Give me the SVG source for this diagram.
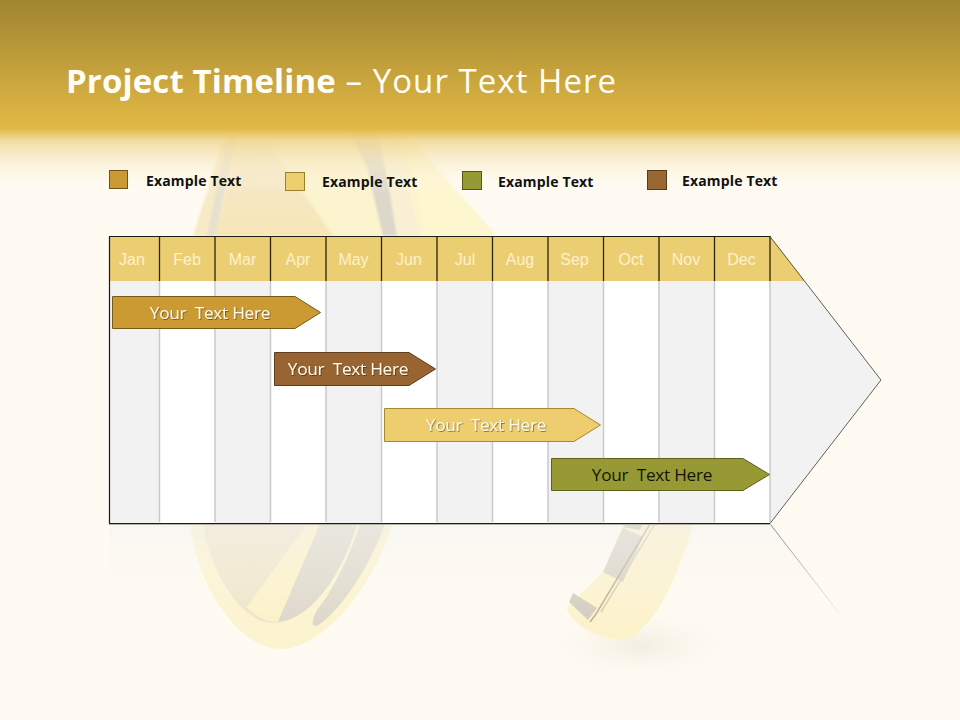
<svg xmlns="http://www.w3.org/2000/svg" width="960" height="720" viewBox="0 0 960 720">
<style>
.leg{font:bold 14px "Open Sans","Noto Sans",sans-serif;fill:#111;letter-spacing:.15px}
.mon{font:16px "Liberation Sans",Arial,sans-serif;fill:#fdf1cd;text-anchor:middle}
.bar{font:17.2px "Open Sans","Noto Sans",sans-serif;text-anchor:middle;fill:#fff8e4;white-space:pre;letter-spacing:-.25px}
.sw{stroke-width:1}
.alt{fill:#f2f2f2}
.gl{stroke:#c9c9c9;stroke-width:1.5;fill:none}
.hl{stroke:#2a2410;stroke-width:1.3;fill:none}
</style>
<defs>
<linearGradient id="hdr" x1="0" y1="0" x2="0" y2="1">
<stop offset="0" stop-color="#a08530"/>
<stop offset=".66" stop-color="#e2b945"/>
<stop offset=".72" stop-color="#efd68f" stop-opacity=".85"/>
<stop offset=".85" stop-color="#f8ebc8" stop-opacity=".5"/>
<stop offset="1" stop-color="#fffbf3" stop-opacity="0"/>
</linearGradient>
<linearGradient id="fadeL" x1="0" y1="0" x2="0" y2="1">
<stop offset="0" stop-color="#8a8a8a"/>
<stop offset="1" stop-color="#8a8a8a" stop-opacity="0"/>
</linearGradient>
<linearGradient id="fadeD" x1="0" y1="0" x2="1" y2="1">
<stop offset="0" stop-color="#8a8a86"/>
<stop offset="1" stop-color="#8a8a86" stop-opacity="0"/>
</linearGradient>
<linearGradient id="refl" x1="0" y1="0" x2="0" y2="1">
<stop offset="0" stop-color="#f3f3f1"/>
<stop offset="1" stop-color="#fffbf3" stop-opacity="0"/>
</linearGradient>
<linearGradient id="peach" x1="0" y1="0" x2="0" y2="1">
<stop offset="0" stop-color="#f3e9cf"/>
<stop offset="1" stop-color="#f6e6b8"/>
</linearGradient>
<radialGradient id="sh"><stop offset="0" stop-color="#ece7da" stop-opacity=".7"/><stop offset="1" stop-color="#fffbf3" stop-opacity="0"/></radialGradient>
<filter id="ts" x="-5%" y="-20%" width="110%" height="140%"><feDropShadow dx="0.8" dy="0.8" stdDeviation="0.6" flood-color="#000" flood-opacity=".5"/></filter>
<filter id="soft"><feGaussianBlur stdDeviation="1.2"/></filter>
</defs>
<rect id="background" width="960" height="720" fill="#fffbf3"/>
<g id="ring-art">
<g filter="url(#soft)">
<path d="M227 128L193 236H497L400 128Z" fill="#fcf3cf"/>
<path d="M227 128L193 236H215L246 128Z" fill="#f6ebc6"/>
<path d="M229 128L207 236H215L238 128Z" fill="#e6e0cf"/>
<path d="M246 128H258L333 236H215Z" fill="url(#peach)"/>
<path d="M347 128H377L383 153L397 236H383L367 167Z" fill="#dcd7ca"/>
<path d="M377 128H392L420 236H399Z" fill="#f8efd5"/>
<path d="M400 128L497 236H425L405 128Z" fill="#fef6cf"/>
</g>
<path d="M190 524C198 590 240 650 282 649C325 647 375 585 392 524Z" fill="#fcf3d0"/>
<path d="M203 524C210 570 240 623 273 623C312 623 345 565 357 524Z" fill="#efe5ca"/>
<path d="M247 607L307 524H320L278 622C265 622 255 616 247 607Z" fill="#fcf2c8"/>
<path d="M278 622L320 524H357C343 570 315 618 278 622Z" fill="#ddd8ca"/>
<path d="M313 625C311 618 318 608 326 598C340 575 352 550 360 524H385C370 565 345 605 320 624C317 626 314 626 313 625Z" fill="#ddd8ca"/>
<ellipse cx="640" cy="645" rx="110" ry="40" fill="url(#sh)"/>
<path d="M623 524H693C682 565 660 615 643 627C635 638 628 640 622 640C605 638 590 634 587 630C575 622 567 615 567 607L603 572Z" fill="#fcf2cc"/>
<path d="M623 528L643 537L623 582L603 572Z" fill="#d8d3c6"/>
<path d="M626 524H643L640 530L623 527Z" fill="#c9c3b2"/>
<path d="M573 593L597 608L588 620L569 602Z" fill="#d2cdbf"/>
<path d="M650 524L596 614L590 622" fill="none" stroke="#b9b09a" stroke-width="1.500"/>
<path d="M655 524L601 612" fill="none" stroke="#d8ceb0" stroke-width="1.500"/>
</g>
<rect id="header-band" width="960" height="195" fill="url(#hdr)"/>
<text id="title" x="66" y="93" font-family="'Open Sans','Noto Sans',sans-serif" font-size="33" fill="#fffdf5" xml:space="preserve"><tspan font-weight="bold" letter-spacing=".12">Project Timeline</tspan><tspan letter-spacing="1.05"> – Your Text Here</tspan></text>
<g id="legend">
<g id="legend-1"><rect class="sw" x="109.500" y="170.500" width="18" height="18" fill="#cc9a33" stroke="#6f5317"/><text class="leg" x="146" y="186">Example Text</text></g>
<g id="legend-2"><rect class="sw" x="285.500" y="172.500" width="19" height="18" fill="#edcf70" stroke="#9a7f2c"/><text class="leg" x="322" y="187">Example Text</text></g>
<g id="legend-3"><rect class="sw" x="462.500" y="171.500" width="19" height="18" fill="#979a34" stroke="#55561a"/><text class="leg" x="498" y="187">Example Text</text></g>
<g id="legend-4"><rect class="sw" x="647.500" y="170.500" width="19" height="19" fill="#9a6733" stroke="#573a1b"/><text class="leg" x="682" y="186">Example Text</text></g>
</g>
<g id="timeline">
<path d="M109 236H770L881 380L770 523H109Z" fill="#fff"/>
<g id="columns">
<rect class="alt" x="109" y="281" width="50.500" height="242"/>
<rect class="alt" x="215" y="281" width="55.500" height="242"/>
<rect class="alt" x="326" y="281" width="55.500" height="242"/>
<rect class="alt" x="437" y="281" width="55.500" height="242"/>
<rect class="alt" x="548" y="281" width="55.500" height="242"/>
<rect class="alt" x="659" y="281" width="55.500" height="242"/>
<path class="alt" d="M770 281H805L881 380L770 523Z"/>
<path fill="#ecce72" d="M109 236H770L805 281H109Z"/>
</g>
<g id="connectors">
<path class="gl" d="M159.500 281V522M215 281V522M270.500 281V522M326 281V522M381.500 281V522M437 281V522M492.500 281V522M548 281V522M603.500 281V522M659 281V522M714.500 281V522M770 281V522"/>
<path class="hl" d="M159.500 236V281M215 236V281M270.500 236V281M326 236V281M381.500 236V281M437 236V281M492.500 236V281M548 236V281M603.500 236V281M659 236V281M714.500 236V281M770 236V281"/>
<path d="M770 523.500H109.500V236.500H770" fill="none" stroke="#1c1c14" stroke-width="1.200"/>
<path d="M770 236.500L881 380L770 523.500" fill="none" stroke="#3a3a30" stroke-width=".8"/>
<path d="M109 524H770L846 622L846 624H109Z" fill="url(#refl)" opacity=".55"/>
<path d="M109.500 525V624" stroke="url(#fadeL)" stroke-width="1" fill="none"/>
<path d="M109 524.500H770" stroke="#b5b2a8" stroke-width="1"/>
<path d="M770.500 524.500L846 622" stroke="url(#fadeD)" stroke-width="1" fill="none"/>
</g>
<g id="months">
<text class="mon" x="132" y="265">Jan</text><text class="mon" x="187" y="265">Feb</text><text class="mon" x="242.500" y="265">Mar</text><text class="mon" x="298" y="265">Apr</text><text class="mon" x="353.500" y="265">May</text><text class="mon" x="409" y="265">Jun</text><text class="mon" x="465" y="265">Jul</text><text class="mon" x="520" y="265">Aug</text><text class="mon" x="574.500" y="265">Sep</text><text class="mon" x="631" y="265">Oct</text><text class="mon" x="686" y="265">Nov</text><text class="mon" x="741.500" y="265">Dec</text>
</g>
</g>
<g id="bar-1"><path d="M112.500 296.500H295L320.500 312.500L295 328.500H112.500Z" fill="#cb9a33" stroke="#765a1c"/><text class="bar" filter="url(#ts)" x="210" y="319">Your  Text Here</text></g>
<g id="bar-2"><path d="M274.500 352.500H409L435.500 369L409 385.500H274.500Z" fill="#986532" stroke="#5e3e1d"/><text class="bar" filter="url(#ts)" x="348" y="375">Your  Text Here</text></g>
<g id="bar-3"><path d="M384.500 408.500H574L600.500 425L574 441.500H384.500Z" fill="#edcd6e" stroke="#a38a32"/><text class="bar" filter="url(#ts)" x="486" y="431">Your  Text Here</text></g>
<g id="bar-4"><path d="M551.500 458.500H743L769.500 474.500L743 490.500H551.500Z" fill="#979a34" stroke="#5f601e"/><text class="bar" style="fill:#14140a" x="652" y="481">Your  Text Here</text></g>
</svg>
